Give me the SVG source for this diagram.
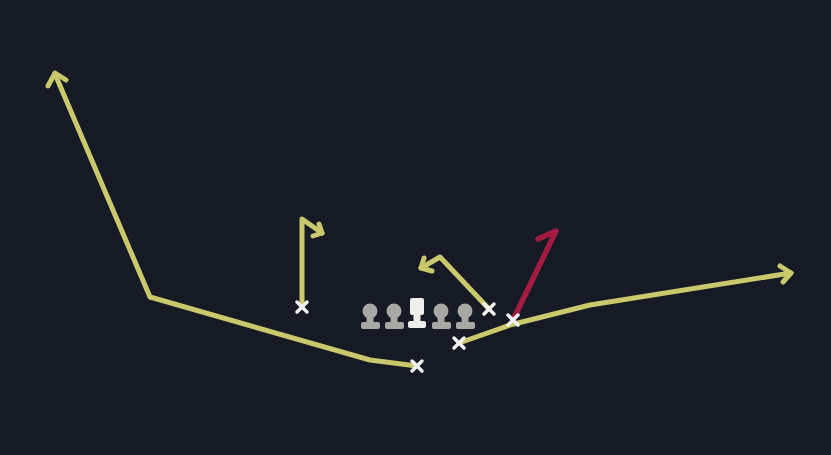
<svg xmlns="http://www.w3.org/2000/svg" width="831" height="455" viewBox="0 0 831 455">
<defs>
<style>
.route{fill:none;stroke:#c9c86c;stroke-width:5;stroke-linecap:round;stroke-linejoin:round}
.red{fill:none;stroke:#a31a42;stroke-width:5.5;stroke-linecap:round;stroke-linejoin:round}
.x{stroke:#f2f2f2;stroke-width:3.5;stroke-linecap:round}
.lm{fill:#a8a8a4}
.c{fill:#eeeeea}
</style>
</defs>
<rect width="831" height="455" fill="#151a24"/>
<g id="connectors">
<polyline class="route" points="417,366 370,360 150,297 55,74"/>
<polyline class="route" points="48,86 55,73 66,80"/>
<polyline class="route" points="302,307 302,219 322,233"/>
<polyline class="route" points="313,236 322,233 319,224"/>
<polyline class="route" points="489,309 440,257 421,268"/>
<polyline class="route" points="424,258 421,268 432,271"/>
<polyline class="route" points="459,343 510,325 590,305 791,273"/>
<polyline class="route" points="780,266 791,273 783,282"/>
<polyline class="red" points="513,320 556,231 538,239"/>
</g>
<g id="lineman1"><circle class="lm" cx="370" cy="311" r="7.5"/><rect class="lm" x="366.5" y="313" width="7" height="11"/><rect class="lm" x="361" y="322" width="19" height="7" rx="2"/></g>
<g id="lineman2"><circle class="lm" cx="394" cy="311" r="7.5"/><rect class="lm" x="390.5" y="313" width="7" height="11"/><rect class="lm" x="385" y="322" width="19" height="7" rx="2"/></g>
<g id="center"><rect class="c" x="410" y="298" width="14" height="17" rx="2"/><rect class="c" x="413.5" y="313" width="7" height="10"/><rect class="c" x="408" y="321" width="18" height="7" rx="2"/></g>
<g id="lineman4"><circle class="lm" cx="441" cy="311" r="7.5"/><rect class="lm" x="437.5" y="313" width="7" height="11"/><rect class="lm" x="432" y="322" width="19" height="7" rx="2"/></g>
<g id="lineman5"><circle class="lm" cx="465" cy="311" r="7.5"/><rect class="lm" x="461.5" y="313" width="7" height="11"/><rect class="lm" x="456" y="322" width="19" height="7" rx="2"/></g>
<g id="x_rb"><path class="x" d="M412,361 L422,371 M422,361 L412,371"/></g>
<g id="x_left"><path class="x" d="M297,302 L307,312 M307,302 L297,312"/></g>
<g id="x_te"><path class="x" d="M484,304 L494,314 M494,304 L484,314"/></g>
<g id="x_qb"><path class="x" d="M454,338 L464,348 M464,338 L454,348"/></g>
<g id="x_red"><path class="x" d="M508,315 L518,325 M518,315 L508,325"/></g>
</svg>
